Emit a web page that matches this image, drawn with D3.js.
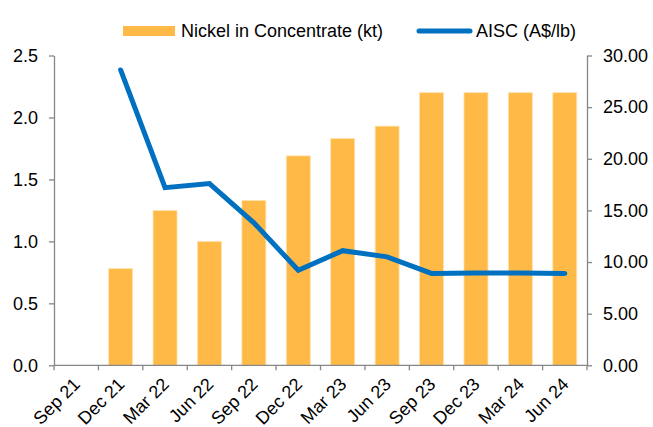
<!DOCTYPE html>
<html>
<head>
<meta charset="utf-8">
<script src="https://cdn.jsdelivr.net/npm/d3@7"></script>
<style>
  html, body { margin: 0; padding: 0; background: #fff; }
  svg { display: block; font-family: "Liberation Sans", Arial, sans-serif; }
</style>
</head>
<body>
<svg id="chart" width="653" height="427"></svg>
<script>
const categories = ["Sep 21","Dec 21","Mar 22","Jun 22","Sep 22","Dec 22","Mar 23","Jun 23","Sep 23","Dec 23","Mar 24","Jun 24"];
const nickelKt = [null, 0.78, 1.25, 1.00, 1.33, 1.69, 1.83, 1.93, 2.20, 2.20, 2.20, 2.20];
const aisc = [null, 28.6, 17.2, 17.6, 13.8, 9.2, 11.1, 10.5, 8.9, 8.95, 8.95, 8.9];
const leftTicks = [0, 0.5, 1.0, 1.5, 2.0, 2.5];
const rightTicks = [0, 5, 10, 15, 20, 25, 30];
const seriesNames = ["Nickel in Concentrate (kt)", "AISC (A$/lb)"];

const barColor = "#FFB946";
const lineColor = "#0070C0";
const axisColor = "#868686";
const fontSize = 18;

const svg = d3.select("#chart");
const mLeft = 54, mRight = 587, mTop = 55.5, mBottom = 365.3;

const x = d3.scaleBand().domain(categories).range([mLeft, mRight]).paddingInner(0).paddingOuter(0);
const yL = d3.scaleLinear().domain([0, 2.5]).range([mBottom, mTop]);
const yR = d3.scaleLinear().domain([0, 30]).range([mBottom, mTop]);

// bars
const barW = x.bandwidth() * 0.54;
svg.append("g").selectAll("rect")
  .data(categories.map((c, i) => ({c, v: nickelKt[i]})).filter(d => d.v != null))
  .join("rect")
  .attr("x", d => x(d.c) + (x.bandwidth() - barW) / 2)
  .attr("y", d => yL(d.v))
  .attr("width", barW)
  .attr("height", d => yL(0) - yL(d.v))
  .attr("fill", barColor)
  .attr("stroke", "#FFE3B0")
  .attr("stroke-width", 0.8);

// left axis
const axL = svg.append("g").attr("transform", `translate(${mLeft},0)`)
  .call(d3.axisLeft(yL).tickValues(leftTicks).tickFormat(d3.format(".1f")).tickSize(5).tickSizeOuter(0).tickPadding(11));
// right axis
const axR = svg.append("g").attr("transform", `translate(${mRight},0)`)
  .call(d3.axisRight(yR).tickValues(rightTicks).tickFormat(d3.format(".2f")).tickSize(5).tickSizeOuter(0).tickPadding(11));
[axL, axR].forEach(a => {
  a.select(".domain").attr("stroke", axisColor).attr("stroke-width", 1.3);
  a.selectAll(".tick line").attr("stroke", axisColor).attr("stroke-width", 1.3);
  a.selectAll(".tick text").attr("font-size", fontSize).attr("fill", "#000")
    .attr("font-family", "Liberation Sans, Arial, sans-serif");
});

// bottom axis
const xb = svg.append("g").attr("transform", `translate(0,${mBottom})`);
xb.append("line").attr("x1", mLeft).attr("x2", mRight).attr("y1", 0).attr("y2", 0)
  .attr("stroke", axisColor).attr("stroke-width", 1.3);
const boundaries = categories.map(c => x(c)).concat([x(categories[categories.length - 1]) + x.bandwidth()]);
xb.selectAll("line.tk").data(boundaries).join("line").attr("class", "tk")
  .attr("x1", d => d).attr("x2", d => d).attr("y1", 0).attr("y2", 5)
  .attr("stroke", axisColor).attr("stroke-width", 1.3);
xb.selectAll("text").data(categories).join("text")
  .attr("transform", d => `translate(${x(d) + x.bandwidth() / 2 + 5},${20}) rotate(-45)`)
  .attr("text-anchor", "end")
  .attr("font-size", fontSize)
  .attr("fill", "#000")
  .text(d => d);

// line
const lineData = categories.map((c, i) => ({c, v: aisc[i]})).filter(d => d.v != null);
svg.append("path")
  .datum(lineData)
  .attr("fill", "none")
  .attr("stroke", lineColor)
  .attr("stroke-width", 5)
  .attr("stroke-linecap", "round")
  .attr("stroke-linejoin", "miter")
  .attr("d", d3.line().x(d => x(d.c) + x.bandwidth() / 2).y(d => yR(d.v)));

// legend
const lg = svg.append("g");
lg.append("rect").attr("x", 123).attr("y", 26).attr("width", 52).attr("height", 10).attr("fill", barColor);
lg.append("text").attr("x", 181).attr("y", 31).attr("dy", "0.35em").attr("font-size", fontSize).attr("fill", "#000").text(seriesNames[0]);
lg.append("line").attr("x1", 419).attr("x2", 470).attr("y1", 31).attr("y2", 31)
  .attr("stroke", lineColor).attr("stroke-width", 5).attr("stroke-linecap", "round");
lg.append("text").attr("x", 476).attr("y", 31).attr("dy", "0.35em").attr("font-size", fontSize).attr("fill", "#000").text(seriesNames[1]);
</script>
</body>
</html>
